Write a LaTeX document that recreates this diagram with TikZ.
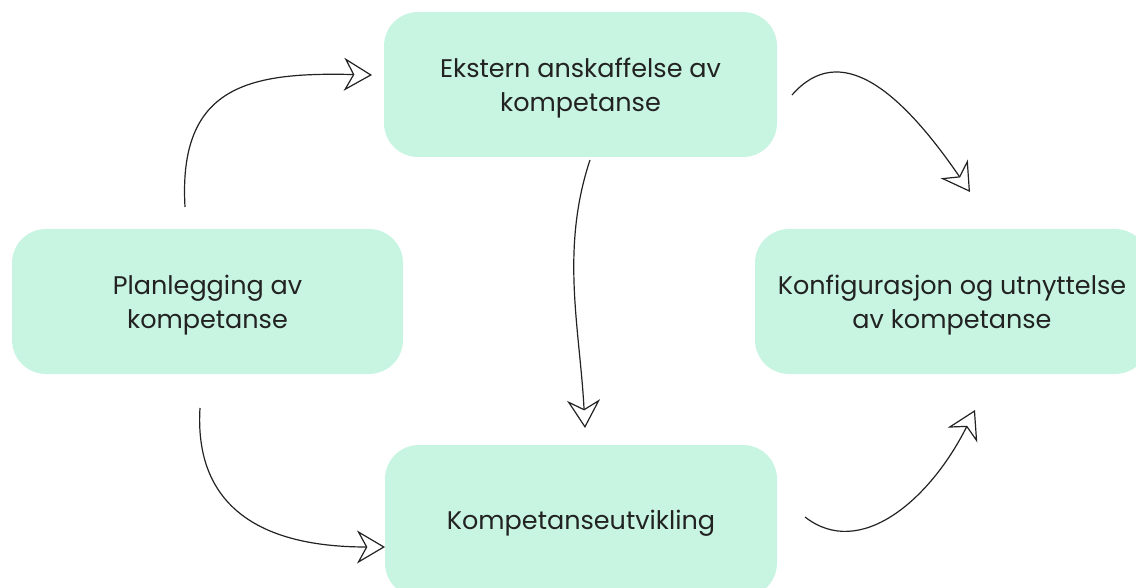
\documentclass[tikz,border=0pt]{standalone}
\usepackage{fontspec}
\setmainfont{Poppins}
\usetikzlibrary{arrows.meta}
\definecolor{mint}{RGB}{200,245,226}
\definecolor{ink}{RGB}{34,34,34}
\tikzset{
  stage/.style={fill=mint, draw=none, rounded corners=34pt, minimum height=145pt},
  stagetext/.style={align=center, text=ink, font=\fontsize{25.5}{34}\selectfont},
  flow/.style={line width=1.2pt, draw=ink,
    -{Stealth[open, length=28pt, width=33pt, inset=9pt, line width=1.2pt]}}
}
\begin{document}
\begin{tikzpicture}[x=1pt,y=-1pt]
  \useasboundingbox (0,0) rectangle (1136,588);
  \clip (0,0) rectangle (1136,588);
  % stages, each with its text set slightly below the box centre
  \node[stage, minimum width=391pt] (plan) at (207.5,301.5) {};
  \node[stagetext, yshift=-4pt] (plantext) at (plan.center) {Planlegging av\\kompetanse};
  \node[stage, minimum width=393pt] (ext) at (580.5,84.5) {};
  \node[stagetext, yshift=-4pt] (exttext) at (ext.center) {Ekstern anskaffelse av\\kompetanse};
  \node[stage, minimum width=392pt, minimum height=152pt] (dev) at (581,521) {};
  \node[stagetext, yshift=-2pt] (devtext) at (dev.center) {Kompetanseutvikling};
  \node[stage, minimum width=394pt] (use) at (952,301.5) {};
  \node[stagetext, yshift=-4pt] (usetext) at (use.center) {Konfigurasjon og utnyttelse\\av kompetanse};
  % free ends of the connectors
  \coordinate (p1) at (185,207);
  \coordinate (e1) at (372,75);
  \coordinate (p2) at (792,95);
  \coordinate (e2) at (970,192);
  \coordinate (p3) at (590,160);
  \coordinate (e3) at (585,428);
  \coordinate (p4) at (200,408);
  \coordinate (e4) at (385,547);
  \coordinate (p5) at (805,517);
  \coordinate (e5) at (975,410);
  % connectors
  \draw[flow] (p1) .. controls (178,85) and (250,72) .. (e1);
  \draw[flow] (p2) .. controls (840,40) and (900,90) .. (e2);
  \draw[flow] (p3) .. controls (560,250) and (580,330) .. (e3);
  \draw[flow] (p4) .. controls (195,490) and (240,547) .. (e4);
  \draw[flow] (p5) .. controls (860,560) and (930,500) .. (e5);
\end{tikzpicture}
\end{document}
